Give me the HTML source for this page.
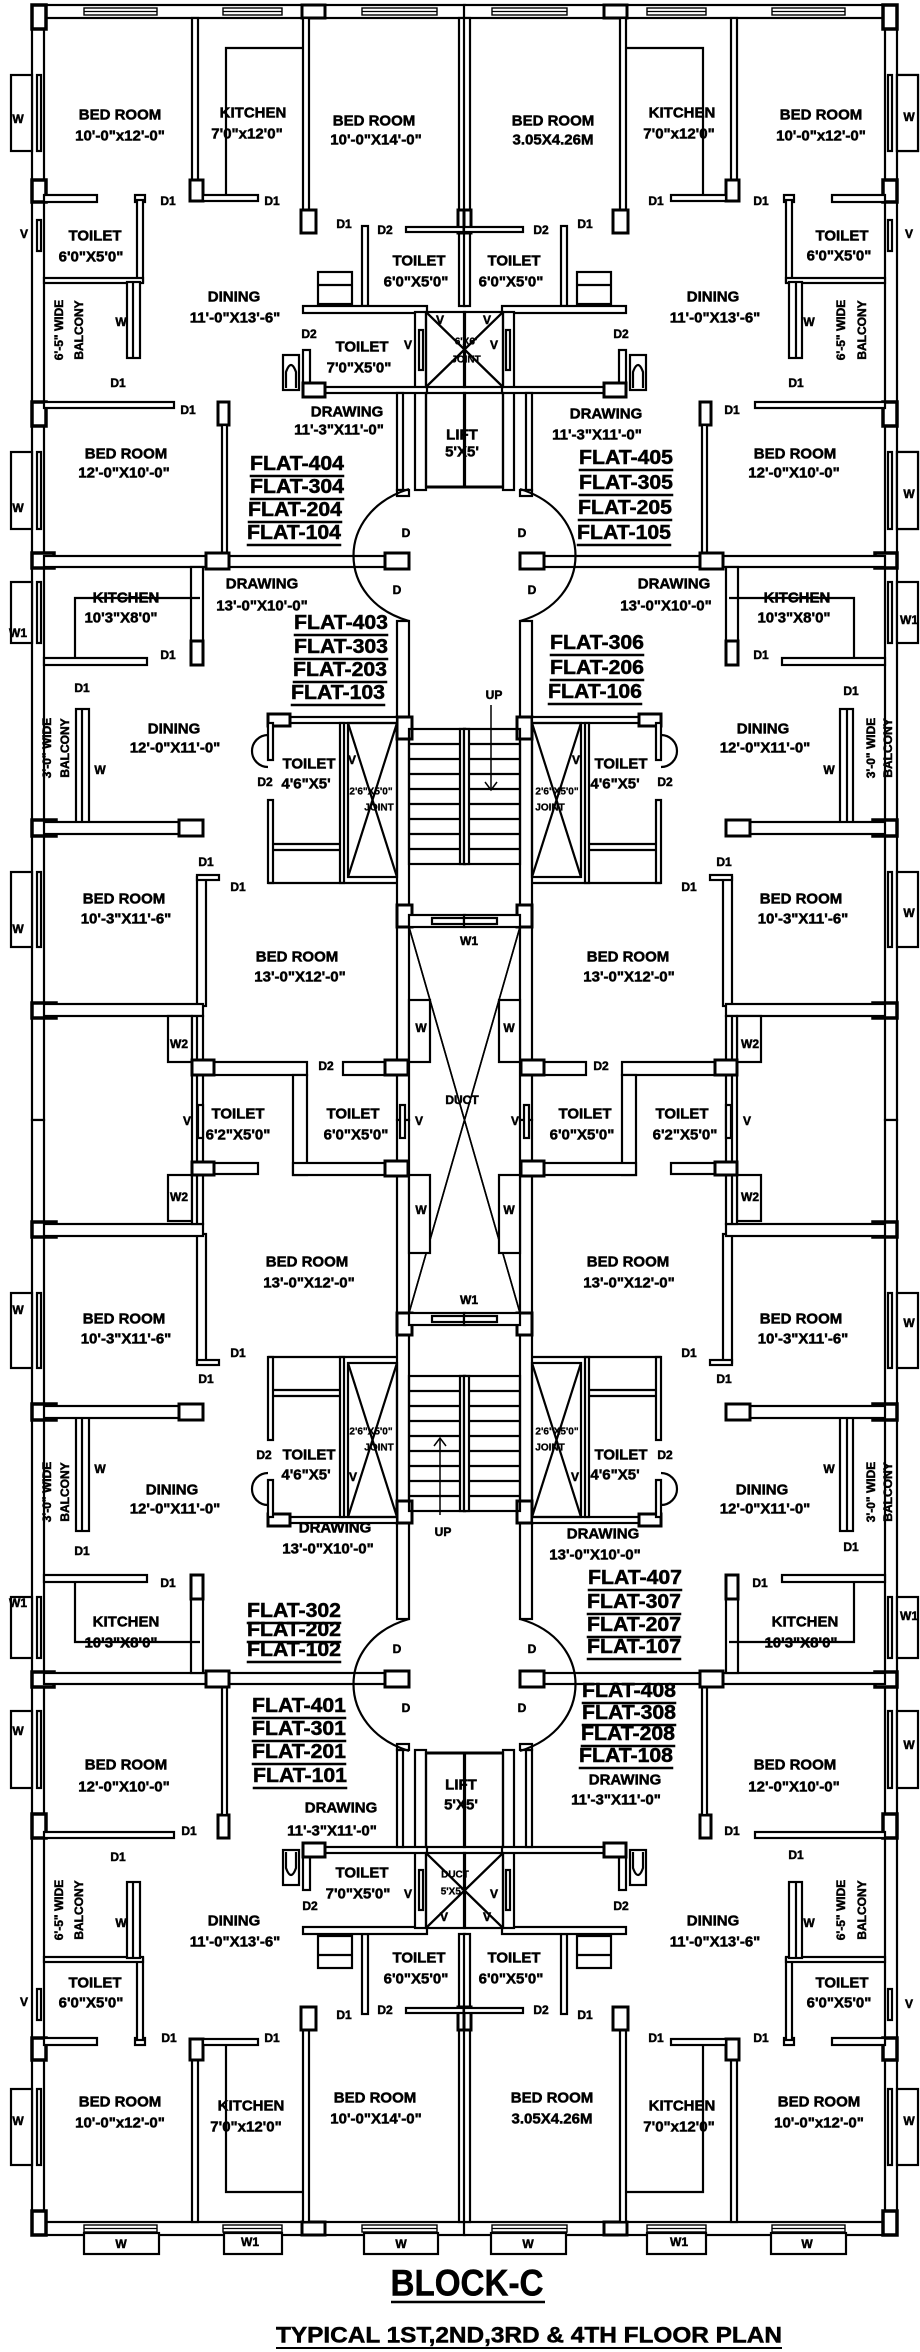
<!DOCTYPE html>
<html><head><meta charset="utf-8">
<style>
html,body{margin:0;padding:0;background:#fff;}
svg{display:block;}
text{font-family:"Liberation Sans",sans-serif;font-weight:bold;fill:#000;stroke:#000;stroke-width:0.5;text-anchor:middle;dominant-baseline:central;}
.r{font-size:15px;}
.s{font-size:12px;}
.f{font-size:20px;text-decoration:underline;}
.t{font-size:10px;stroke-width:0.3;}
</style></head><body>
<svg width="920" height="2352" viewBox="0 0 920 2352" xmlns="http://www.w3.org/2000/svg">
<defs>
<g id="q" fill="#fff" stroke="#000" stroke-width="2.2">
  <rect x="32" y="5" width="433" height="13"/>
  <rect x="84" y="8" width="73" height="7" fill="none" stroke-width="1.4"/>
  <line x1="84" y1="11.5" x2="157" y2="11.5" stroke-width="1.2"/>
  <rect x="223" y="8" width="59" height="7" fill="none" stroke-width="1.4"/>
  <line x1="223" y1="11.5" x2="282" y2="11.5" stroke-width="1.2"/>
  <rect x="362" y="8" width="75" height="7" fill="none" stroke-width="1.4"/>
  <line x1="362" y1="11.5" x2="437" y2="11.5" stroke-width="1.2"/>
  <rect x="302" y="5" width="23" height="13" stroke-width="3"/>
  <rect x="32" y="18" width="12" height="1102"/>
  <rect x="32" y="5" width="14" height="24" stroke-width="3.5"/>
  <rect x="32" y="180" width="14" height="22" stroke-width="3.5"/>
  <rect x="32" y="402" width="14" height="24" stroke-width="3.5"/>
  <rect x="32" y="553" width="22" height="15" stroke-width="3.5"/>
  <rect x="32" y="820" width="24" height="16" stroke-width="3.5"/>
  <rect x="32" y="1003" width="24" height="15" stroke-width="3.5"/>
  <rect x="11" y="75" width="21" height="76"/>
  <rect x="37" y="75" width="4" height="76"/>
  <rect x="37" y="220" width="4" height="31"/>
  <rect x="11" y="452" width="21" height="77"/>
  <rect x="37" y="452" width="4" height="77"/>
  <rect x="11" y="582" width="21" height="61"/>
  <rect x="37" y="582" width="4" height="61"/>
  <rect x="11" y="872" width="21" height="75"/>
  <rect x="37" y="872" width="4" height="75"/>
  <rect x="192" y="18" width="6" height="165"/>
  <rect x="190" y="180" width="13" height="21" stroke-width="3"/>
  <polyline points="226,199 226,48 302,48" fill="none"/>
  <rect x="303" y="18" width="6" height="193"/>
  <rect x="301" y="210" width="15" height="23" stroke-width="3"/>
  <rect x="459" y="18" width="6" height="288"/>
  <rect x="458" y="210" width="7" height="23" stroke-width="3"/>
  <rect x="44" y="195" width="53" height="7"/>
  <rect x="135" y="195" width="10" height="7"/>
  <rect x="137" y="200" width="6" height="82"/>
  <rect x="203" y="195" width="55" height="6"/>
  <rect x="44" y="278" width="99" height="5"/>
  <rect x="127" y="282" width="13" height="76"/>
  <line x1="133" y1="282" x2="133" y2="358"/>
  <rect x="362" y="226" width="6" height="80"/>
  <rect x="406" y="227" width="59" height="5"/>
  <rect x="318" y="272" width="34" height="32"/>
  <line x1="318" y1="285" x2="352" y2="285"/>
  <rect x="303" y="306" width="124" height="7"/>
  <rect x="303" y="350" width="7" height="38"/>
  <rect x="415" y="312" width="11" height="178"/>
  <rect x="419" y="330" width="4" height="40"/>
  <rect x="303" y="387" width="124" height="6"/>
  <rect x="303" y="383" width="22" height="14" stroke-width="3"/>
  <rect x="283" y="355" width="16" height="35"/>
  <path d="M286,388 L286,372 Q291,358 296,372 L296,388" fill="none"/>
  <rect x="426" y="312" width="39" height="75" fill="none"/>
  <line x1="426" y1="312" x2="503" y2="387"/>
  <line x1="503" y1="312" x2="426" y2="387"/>
  <rect x="426" y="393" width="39" height="94" fill="none"/>
  <line x1="426" y1="487" x2="465" y2="487" stroke-width="3"/>
  <rect x="44" y="402" width="130" height="6"/>
  <rect x="218" y="402" width="11" height="23" stroke-width="3"/>
  <rect x="222" y="425" width="5" height="132"/>
  <rect x="397" y="393" width="6" height="97"/>
  <rect x="397" y="490" width="12" height="6"/>
  <rect x="44" y="556" width="365" height="11"/>
  <rect x="206" y="553" width="23" height="16" stroke-width="3"/>
  <rect x="385" y="553" width="24" height="16" stroke-width="3"/>
  <path d="M409,489 C335,512 335,600 409,621" fill="none"/>
  <rect x="191" y="567" width="12" height="98"/>
  <rect x="191" y="641" width="12" height="24" stroke-width="3"/>
  <rect x="44" y="658" width="103" height="7"/>
  <polyline points="75,657 75,598 200,598" fill="none"/>
  <rect x="397" y="621" width="12" height="499"/>
  <rect x="397" y="717" width="15" height="22" stroke-width="3"/>
  <rect x="397" y="905" width="15" height="22" stroke-width="3"/>
  <rect x="76" y="709" width="13" height="115"/>
  <line x1="82" y1="709" x2="82" y2="824"/>
  <rect x="44" y="822" width="159" height="12"/>
  <rect x="179" y="820" width="24" height="16" stroke-width="3"/>
  <rect x="268" y="717" width="129" height="6"/>
  <rect x="268" y="714" width="22" height="12" stroke-width="3"/>
  <rect x="268" y="723" width="5" height="37"/>
  <rect x="268" y="800" width="5" height="83"/>
  <rect x="340" y="723" width="4" height="160"/>
  <line x1="268" y1="883" x2="397" y2="883"/>
  <line x1="273" y1="844" x2="340" y2="844"/>
  <line x1="273" y1="850" x2="340" y2="850"/>
  <rect x="348" y="723" width="49" height="154" fill="none"/>
  <line x1="348" y1="723" x2="397" y2="877"/>
  <line x1="397" y1="723" x2="348" y2="877"/>
  <path d="M268,735 A16,16 0 0 0 268,767" fill="none"/>
  <rect x="409" y="729" width="56" height="135" fill="none"/>
  <line x1="409" y1="744" x2="465" y2="744"/>
  <line x1="409" y1="759" x2="465" y2="759"/>
  <line x1="409" y1="774" x2="465" y2="774"/>
  <line x1="409" y1="789" x2="465" y2="789"/>
  <line x1="409" y1="804" x2="465" y2="804"/>
  <line x1="409" y1="819" x2="465" y2="819"/>
  <line x1="409" y1="834" x2="465" y2="834"/>
  <line x1="409" y1="849" x2="465" y2="849"/>
  <rect x="460" y="729" width="5" height="135"/>
  <rect x="409" y="915" width="56" height="12"/>
  <rect x="432" y="918" width="33" height="6"/>
  <rect x="197" y="877" width="9" height="129"/>
  <rect x="197" y="875" width="22" height="5"/>
  <rect x="44" y="1004" width="159" height="12"/>
  <line x1="409" y1="927" x2="520" y2="1313" stroke-width="1.6"/>
</g>
<g id="m" fill="#fff" stroke="#000" stroke-width="2.2">
  <rect x="168" y="1016" width="24" height="46"/>
  <rect x="168" y="1175" width="24" height="46"/>
  <rect x="192" y="1016" width="11" height="208"/>
  <line x1="197" y1="1016" x2="197" y2="1224"/>
  <rect x="192" y="1062" width="115" height="13"/>
  <rect x="343" y="1062" width="65" height="13"/>
  <rect x="192" y="1060" width="22" height="15" stroke-width="3"/>
  <rect x="385" y="1060" width="23" height="15" stroke-width="3"/>
  <rect x="293" y="1075" width="14" height="100"/>
  <rect x="293" y="1163" width="115" height="12"/>
  <rect x="385" y="1161" width="23" height="15" stroke-width="3"/>
  <rect x="203" y="1163" width="55" height="11"/>
  <rect x="192" y="1162" width="22" height="13" stroke-width="3"/>
  <rect x="198" y="1105" width="5" height="33"/>
  <rect x="400" y="1105" width="5" height="33"/>
  <rect x="409" y="1000" width="21" height="62"/>
  <rect x="409" y="1175" width="21" height="78"/>
</g>
</defs>
<use href="#q"/>
<use href="#q" transform="translate(929,0) scale(-1,1)"/>
<use href="#q" transform="translate(0,2240) scale(1,-1)"/>
<use href="#q" transform="translate(929,2240) scale(-1,-1)"/>
<use href="#m"/>
<use href="#m" transform="translate(929,0) scale(-1,1)"/>
<g fill="#fff" stroke="#000" stroke-width="2.2">
<rect x="84" y="2233" width="75" height="21"/><rect x="224" y="2233" width="58" height="21"/>
<rect x="364" y="2233" width="74" height="21"/><rect x="491" y="2233" width="75" height="21"/>
<rect x="647" y="2233" width="59" height="21"/><rect x="771" y="2233" width="75" height="21"/>
<rect x="897" y="75" width="21" height="76"/><rect x="897" y="452" width="21" height="77"/>
</g>
<g stroke="#000" stroke-width="1.5" fill="none">
<line x1="491" y1="705" x2="491" y2="790"/><polyline points="485,782 491,790 497,782"/>
<line x1="440" y1="1515" x2="440" y2="1438"/><polyline points="434,1446 440,1438 446,1446"/>
</g>

<text class="r" x="120" y="115">BED ROOM</text><text class="r" x="120" y="136">10'-0"x12'-0"</text>
<text class="r" x="253" y="113">KITCHEN</text><text class="r" x="247" y="134">7'0"x12'0"</text>
<text class="r" x="374" y="121">BED ROOM</text><text class="r" x="376" y="140">10'-0"X14'-0"</text>
<text class="r" x="553" y="121">BED ROOM</text><text class="r" x="553" y="140">3.05X4.26M</text>
<text class="r" x="682" y="113">KITCHEN</text><text class="r" x="679" y="134">7'0"x12'0"</text>
<text class="r" x="821" y="115">BED ROOM</text><text class="r" x="821" y="136">10'-0"x12'-0"</text>
<text class="s" x="18" y="119">W</text><text class="s" x="909" y="117">W</text>
<text class="s" x="24" y="234">V</text><text class="s" x="909" y="234">V</text>
<text class="s" x="168" y="201">D1</text><text class="s" x="272" y="201">D1</text>
<text class="s" x="344" y="224">D1</text><text class="s" x="385" y="230">D2</text>
<text class="s" x="541" y="230">D2</text><text class="s" x="585" y="224">D1</text>
<text class="s" x="656" y="201">D1</text><text class="s" x="761" y="201">D1</text>
<text class="r" x="95" y="236">TOILET</text><text class="r" x="91" y="257">6'0"X5'0"</text>
<text class="r" x="842" y="236">TOILET</text><text class="r" x="839" y="256">6'0"X5'0"</text>
<text class="r" x="419" y="261">TOILET</text><text class="r" x="416" y="282">6'0"X5'0"</text>
<text class="r" x="514" y="261">TOILET</text><text class="r" x="511" y="282">6'0"X5'0"</text>
<text class="r" x="234" y="297">DINING</text><text class="r" x="235" y="318">11'-0"X13'-6"</text>
<text class="r" x="713" y="297">DINING</text><text class="r" x="715" y="318">11'-0"X13'-6"</text>
<text class="s" x="309" y="334">D2</text><text class="s" x="621" y="334">D2</text>
<text class="r" x="362" y="347">TOILET</text><text class="r" x="359" y="368">7'0"X5'0"</text>
<text class="s" x="408" y="345">V</text><text class="s" x="494" y="345">V</text>
<text class="s" x="440" y="320">V</text><text class="s" x="487" y="320">V</text>
<text class="t" x="466" y="342">6'X6'</text><text class="t" x="466" y="360">JOINT</text>
<text class="s" x="121" y="322">W</text><text class="s" x="809" y="322">W</text>
<text class="s" transform="translate(59,330) rotate(-90)" x="0" y="0">6'-5" WIDE</text>
<text class="s" transform="translate(79,330) rotate(-90)" x="0" y="0">BALCONY</text>
<text class="s" transform="translate(841,330) rotate(-90)" x="0" y="0">6'-5" WIDE</text>
<text class="s" transform="translate(862,330) rotate(-90)" x="0" y="0">BALCONY</text>
<text class="s" x="118" y="383">D1</text><text class="s" x="796" y="383">D1</text>
<text class="s" x="188" y="410">D1</text><text class="s" x="732" y="410">D1</text>
<text class="r" x="347" y="412">DRAWING</text><text class="r" x="339" y="430">11'-3"X11'-0"</text>
<text class="r" x="606" y="414">DRAWING</text><text class="r" x="597" y="435">11'-3"X11'-0"</text>
<text class="r" x="462" y="435">LIFT</text><text class="r" x="462" y="452">5'X5'</text>
<text class="r" x="126" y="454">BED ROOM</text><text class="r" x="124" y="473">12'-0"X10'-0"</text>
<text class="r" x="795" y="454">BED ROOM</text><text class="r" x="794" y="473">12'-0"X10'-0"</text>
<text class="s" x="18" y="508">W</text><text class="s" x="909" y="494">W</text>
<text class="f" x="297" y="464" textLength="94" lengthAdjust="spacingAndGlyphs">FLAT-404</text>
<text class="f" x="297" y="487" textLength="94" lengthAdjust="spacingAndGlyphs">FLAT-304</text>
<text class="f" x="295" y="510" textLength="94" lengthAdjust="spacingAndGlyphs">FLAT-204</text>
<text class="f" x="294" y="533" textLength="94" lengthAdjust="spacingAndGlyphs">FLAT-104</text>
<text class="f" x="626" y="458" textLength="94" lengthAdjust="spacingAndGlyphs">FLAT-405</text>
<text class="f" x="626" y="483" textLength="94" lengthAdjust="spacingAndGlyphs">FLAT-305</text>
<text class="f" x="625" y="508" textLength="94" lengthAdjust="spacingAndGlyphs">FLAT-205</text>
<text class="f" x="624" y="533" textLength="94" lengthAdjust="spacingAndGlyphs">FLAT-105</text>
<text class="s" x="406" y="533">D</text><text class="s" x="522" y="533">D</text>
<text class="s" x="397" y="590">D</text><text class="s" x="532" y="590">D</text>
<text class="r" x="262" y="584">DRAWING</text><text class="r" x="262" y="606">13'-0"X10'-0"</text>
<text class="r" x="674" y="584">DRAWING</text><text class="r" x="666" y="606">13'-0"X10'-0"</text>
<text class="r" x="126" y="598">KITCHEN</text><text class="r" x="121" y="618">10'3"X8'0"</text>
<text class="r" x="797" y="598">KITCHEN</text><text class="r" x="794" y="618">10'3"X8'0"</text>
<text class="s" x="18" y="633">W1</text><text class="s" x="909" y="620">W1</text>
<text class="s" x="168" y="655">D1</text><text class="s" x="761" y="655">D1</text>
<text class="f" x="341" y="623" textLength="94" lengthAdjust="spacingAndGlyphs">FLAT-403</text>
<text class="f" x="341" y="647" textLength="94" lengthAdjust="spacingAndGlyphs">FLAT-303</text>
<text class="f" x="340" y="670" textLength="94" lengthAdjust="spacingAndGlyphs">FLAT-203</text>
<text class="f" x="338" y="693" textLength="94" lengthAdjust="spacingAndGlyphs">FLAT-103</text>
<text class="f" x="597" y="643" textLength="94" lengthAdjust="spacingAndGlyphs">FLAT-306</text>
<text class="f" x="597" y="668" textLength="94" lengthAdjust="spacingAndGlyphs">FLAT-206</text>
<text class="f" x="595" y="692" textLength="94" lengthAdjust="spacingAndGlyphs">FLAT-106</text>
<text class="s" x="82" y="688">D1</text><text class="s" x="851" y="691">D1</text>
<text class="s" x="494" y="695">UP</text>
<text class="r" x="174" y="729">DINING</text><text class="r" x="175" y="748">12'-0"X11'-0"</text>
<text class="r" x="763" y="729">DINING</text><text class="r" x="765" y="748">12'-0"X11'-0"</text>
<text class="s" transform="translate(47,748) rotate(-90)" x="0" y="0">3'-0" WIDE</text>
<text class="s" transform="translate(65,748) rotate(-90)" x="0" y="0">BALCONY</text>
<text class="s" transform="translate(871,748) rotate(-90)" x="0" y="0">3'-0" WIDE</text>
<text class="s" transform="translate(888,748) rotate(-90)" x="0" y="0">BALCONY</text>
<text class="s" x="100" y="770">W</text><text class="s" x="829" y="770">W</text>
<text class="r" x="309" y="764">TOILET</text><text class="r" x="306" y="784">4'6"X5'</text>
<text class="r" x="621" y="764">TOILET</text><text class="r" x="615" y="784">4'6"X5'</text>
<text class="s" x="265" y="782">D2</text><text class="s" x="665" y="782">D2</text>
<text class="s" x="352" y="760">V</text><text class="s" x="576" y="760">V</text>
<text class="t" x="371" y="792">2'6"X5'0"</text><text class="t" x="379" y="808">JOINT</text>
<text class="t" x="557" y="792">2'6"X5'0"</text><text class="t" x="550" y="808">JOINT</text>
<text class="s" x="206" y="862">D1</text><text class="s" x="238" y="887">D1</text>
<text class="s" x="724" y="862">D1</text><text class="s" x="689" y="887">D1</text>
<text class="r" x="124" y="899">BED ROOM</text><text class="r" x="126" y="919">10'-3"X11'-6"</text>
<text class="r" x="801" y="899">BED ROOM</text><text class="r" x="803" y="919">10'-3"X11'-6"</text>
<text class="s" x="18" y="929">W</text><text class="s" x="909" y="913">W</text>
<text class="s" x="469" y="941">W1</text>
<text class="r" x="297" y="957">BED ROOM</text><text class="r" x="300" y="977">13'-0"X12'-0"</text>
<text class="r" x="628" y="957">BED ROOM</text><text class="r" x="629" y="977">13'-0"X12'-0"</text>
<text class="s" x="421" y="1028">W</text><text class="s" x="509" y="1028">W</text>
<text class="s" x="179" y="1044">W2</text><text class="s" x="750" y="1044">W2</text>
<text class="s" x="326" y="1066">D2</text><text class="s" x="601" y="1066">D2</text>
<text class="s" x="462" y="1100">DUCT</text>
<text class="r" x="238" y="1114">TOILET</text><text class="r" x="238" y="1135">6'2"X5'0"</text>
<text class="r" x="353" y="1114">TOILET</text><text class="r" x="356" y="1135">6'0"X5'0"</text>
<text class="r" x="585" y="1114">TOILET</text><text class="r" x="582" y="1135">6'0"X5'0"</text>
<text class="r" x="682" y="1114">TOILET</text><text class="r" x="685" y="1135">6'2"X5'0"</text>
<text class="s" x="187" y="1121">V</text><text class="s" x="419" y="1121">V</text>
<text class="s" x="515" y="1121">V</text><text class="s" x="747" y="1121">V</text>
<text class="s" x="179" y="1197">W2</text><text class="s" x="750" y="1197">W2</text>
<text class="s" x="421" y="1210">W</text><text class="s" x="509" y="1210">W</text>
<text class="r" x="307" y="1262">BED ROOM</text><text class="r" x="309" y="1283">13'-0"X12'-0"</text>
<text class="r" x="628" y="1262">BED ROOM</text><text class="r" x="629" y="1283">13'-0"X12'-0"</text>
<text class="s" x="469" y="1300">W1</text>
<text class="r" x="124" y="1319">BED ROOM</text><text class="r" x="126" y="1339">10'-3"X11'-6"</text>
<text class="r" x="801" y="1319">BED ROOM</text><text class="r" x="803" y="1339">10'-3"X11'-6"</text>
<text class="s" x="18" y="1310">W</text><text class="s" x="909" y="1323">W</text>
<text class="s" x="238" y="1353">D1</text><text class="s" x="206" y="1379">D1</text>
<text class="s" x="689" y="1353">D1</text><text class="s" x="724" y="1379">D1</text>
<text class="t" x="371" y="1432">2'6"X5'0"</text><text class="t" x="379" y="1448">JOINT</text>
<text class="t" x="557" y="1432">2'6"X5'0"</text><text class="t" x="550" y="1448">JOINT</text>
<text class="r" x="309" y="1455">TOILET</text><text class="r" x="306" y="1475">4'6"X5'</text>
<text class="r" x="621" y="1455">TOILET</text><text class="r" x="615" y="1475">4'6"X5'</text>
<text class="s" x="264" y="1455">D2</text><text class="s" x="665" y="1455">D2</text>
<text class="s" x="353" y="1477">V</text><text class="s" x="575" y="1477">V</text>
<text class="r" x="172" y="1490">DINING</text><text class="r" x="175" y="1509">12'-0"X11'-0"</text>
<text class="r" x="762" y="1490">DINING</text><text class="r" x="765" y="1509">12'-0"X11'-0"</text>
<text class="s" transform="translate(47,1492) rotate(-90)" x="0" y="0">3'-0" WIDE</text>
<text class="s" transform="translate(65,1492) rotate(-90)" x="0" y="0">BALCONY</text>
<text class="s" transform="translate(871,1492) rotate(-90)" x="0" y="0">3'-0" WIDE</text>
<text class="s" transform="translate(888,1492) rotate(-90)" x="0" y="0">BALCONY</text>
<text class="s" x="100" y="1469">W</text><text class="s" x="829" y="1469">W</text>
<text class="r" x="335" y="1528">DRAWING</text><text class="r" x="328" y="1549">13'-0"X10'-0"</text>
<text class="s" x="443" y="1532">UP</text>
<text class="r" x="603" y="1534">DRAWING</text><text class="r" x="595" y="1555">13'-0"X10'-0"</text>
<text class="s" x="82" y="1551">D1</text><text class="s" x="851" y="1547">D1</text>
<text class="s" x="168" y="1583">D1</text><text class="s" x="760" y="1583">D1</text>
<text class="s" x="18" y="1603">W1</text><text class="s" x="909" y="1616">W1</text>
<text class="r" x="126" y="1622">KITCHEN</text><text class="r" x="121" y="1643">10'3"X8'0"</text>
<text class="r" x="805" y="1622">KITCHEN</text><text class="r" x="801" y="1643">10'3"X8'0"</text>
<text class="f" x="294" y="1611" textLength="94" lengthAdjust="spacingAndGlyphs">FLAT-302</text>
<text class="f" x="294" y="1630" textLength="94" lengthAdjust="spacingAndGlyphs">FLAT-202</text>
<text class="f" x="294" y="1650" textLength="94" lengthAdjust="spacingAndGlyphs">FLAT-102</text>
<text class="f" x="635" y="1578" textLength="94" lengthAdjust="spacingAndGlyphs">FLAT-407</text>
<text class="f" x="634" y="1602" textLength="94" lengthAdjust="spacingAndGlyphs">FLAT-307</text>
<text class="f" x="634" y="1625" textLength="94" lengthAdjust="spacingAndGlyphs">FLAT-207</text>
<text class="f" x="634" y="1647" textLength="94" lengthAdjust="spacingAndGlyphs">FLAT-107</text>
<text class="s" x="397" y="1649">D</text><text class="s" x="532" y="1649">D</text>
<text class="s" x="406" y="1708">D</text><text class="s" x="522" y="1708">D</text>
<text class="f" x="299" y="1706" textLength="94" lengthAdjust="spacingAndGlyphs">FLAT-401</text>
<text class="f" x="299" y="1729" textLength="94" lengthAdjust="spacingAndGlyphs">FLAT-301</text>
<text class="f" x="299" y="1752" textLength="94" lengthAdjust="spacingAndGlyphs">FLAT-201</text>
<text class="f" x="300" y="1776" textLength="94" lengthAdjust="spacingAndGlyphs">FLAT-101</text>
<text class="f" x="629" y="1691" textLength="94" lengthAdjust="spacingAndGlyphs">FLAT-408</text>
<text class="f" x="629" y="1713" textLength="94" lengthAdjust="spacingAndGlyphs">FLAT-308</text>
<text class="f" x="628" y="1734" textLength="94" lengthAdjust="spacingAndGlyphs">FLAT-208</text>
<text class="f" x="626" y="1756" textLength="94" lengthAdjust="spacingAndGlyphs">FLAT-108</text>
<text class="s" x="18" y="1731">W</text><text class="s" x="909" y="1745">W</text>
<text class="r" x="126" y="1765">BED ROOM</text><text class="r" x="124" y="1787">12'-0"X10'-0"</text>
<text class="r" x="795" y="1765">BED ROOM</text><text class="r" x="794" y="1787">12'-0"X10'-0"</text>
<text class="r" x="461" y="1785">LIFT</text><text class="r" x="461" y="1805">5'X5'</text>
<text class="r" x="625" y="1780">DRAWING</text><text class="r" x="616" y="1800">11'-3"X11'-0"</text>
<text class="r" x="341" y="1808">DRAWING</text><text class="r" x="332" y="1831">11'-3"X11'-0"</text>
<text class="s" x="189" y="1831">D1</text><text class="s" x="732" y="1831">D1</text>
<text class="s" x="118" y="1857">D1</text><text class="s" x="796" y="1855">D1</text>
<text class="r" x="362" y="1873">TOILET</text><text class="r" x="358" y="1894">7'0"X5'0"</text>
<text class="s" x="408" y="1894">V</text><text class="s" x="494" y="1894">V</text>
<text class="s" x="310" y="1906">D2</text><text class="s" x="621" y="1906">D2</text>
<text class="t" x="455" y="1875">DUCT</text><text class="t" x="452" y="1892">5'X5'</text>
<text class="s" x="444" y="1917">V</text><text class="s" x="487" y="1917">V</text>
<text class="s" transform="translate(59,1910) rotate(-90)" x="0" y="0">6'-5" WIDE</text>
<text class="s" transform="translate(79,1910) rotate(-90)" x="0" y="0">BALCONY</text>
<text class="s" transform="translate(841,1910) rotate(-90)" x="0" y="0">6'-5" WIDE</text>
<text class="s" transform="translate(862,1910) rotate(-90)" x="0" y="0">BALCONY</text>
<text class="s" x="121" y="1923">W</text><text class="s" x="809" y="1923">W</text>
<text class="r" x="234" y="1921">DINING</text><text class="r" x="235" y="1942">11'-0"X13'-6"</text>
<text class="r" x="713" y="1921">DINING</text><text class="r" x="715" y="1942">11'-0"X13'-6"</text>
<text class="r" x="419" y="1958">TOILET</text><text class="r" x="416" y="1979">6'0"X5'0"</text>
<text class="r" x="514" y="1958">TOILET</text><text class="r" x="511" y="1979">6'0"X5'0"</text>
<text class="r" x="95" y="1983">TOILET</text><text class="r" x="91" y="2003">6'0"X5'0"</text>
<text class="r" x="842" y="1983">TOILET</text><text class="r" x="839" y="2003">6'0"X5'0"</text>
<text class="s" x="24" y="2002">V</text><text class="s" x="909" y="2004">V</text>
<text class="s" x="344" y="2015">D1</text><text class="s" x="385" y="2010">D2</text>
<text class="s" x="541" y="2010">D2</text><text class="s" x="585" y="2015">D1</text>
<text class="s" x="169" y="2038">D1</text><text class="s" x="272" y="2038">D1</text>
<text class="s" x="656" y="2038">D1</text><text class="s" x="761" y="2038">D1</text>
<text class="r" x="120" y="2102">BED ROOM</text><text class="r" x="120" y="2123">10'-0"x12'-0"</text>
<text class="r" x="251" y="2106">KITCHEN</text><text class="r" x="246" y="2127">7'0"x12'0"</text>
<text class="r" x="375" y="2098">BED ROOM</text><text class="r" x="376" y="2119">10'-0"X14'-0"</text>
<text class="r" x="552" y="2098">BED ROOM</text><text class="r" x="552" y="2119">3.05X4.26M</text>
<text class="r" x="682" y="2106">KITCHEN</text><text class="r" x="679" y="2127">7'0"x12'0"</text>
<text class="r" x="819" y="2102">BED ROOM</text><text class="r" x="819" y="2123">10'-0"x12'-0"</text>
<text class="s" x="18" y="2121">W</text><text class="s" x="909" y="2121">W</text>
<text class="s" x="121" y="2244">W</text><text class="s" x="250" y="2242">W1</text>
<text class="s" x="401" y="2244">W</text><text class="s" x="528" y="2244">W</text>
<text class="s" x="679" y="2242">W1</text><text class="s" x="807" y="2244">W</text>
<text x="467" y="2283" style="font-size:37px" textLength="153" lengthAdjust="spacingAndGlyphs">BLOCK-C</text>
<line x1="391" y1="2302" x2="545" y2="2302" stroke="#000" stroke-width="2.5"/>
<text x="529" y="2335" style="font-size:22px" textLength="506" lengthAdjust="spacingAndGlyphs">TYPICAL 1ST,2ND,3RD &amp; 4TH  FLOOR PLAN</text>
<line x1="276" y1="2348" x2="782" y2="2348" stroke="#000" stroke-width="2"/>
</svg>
</body></html>
